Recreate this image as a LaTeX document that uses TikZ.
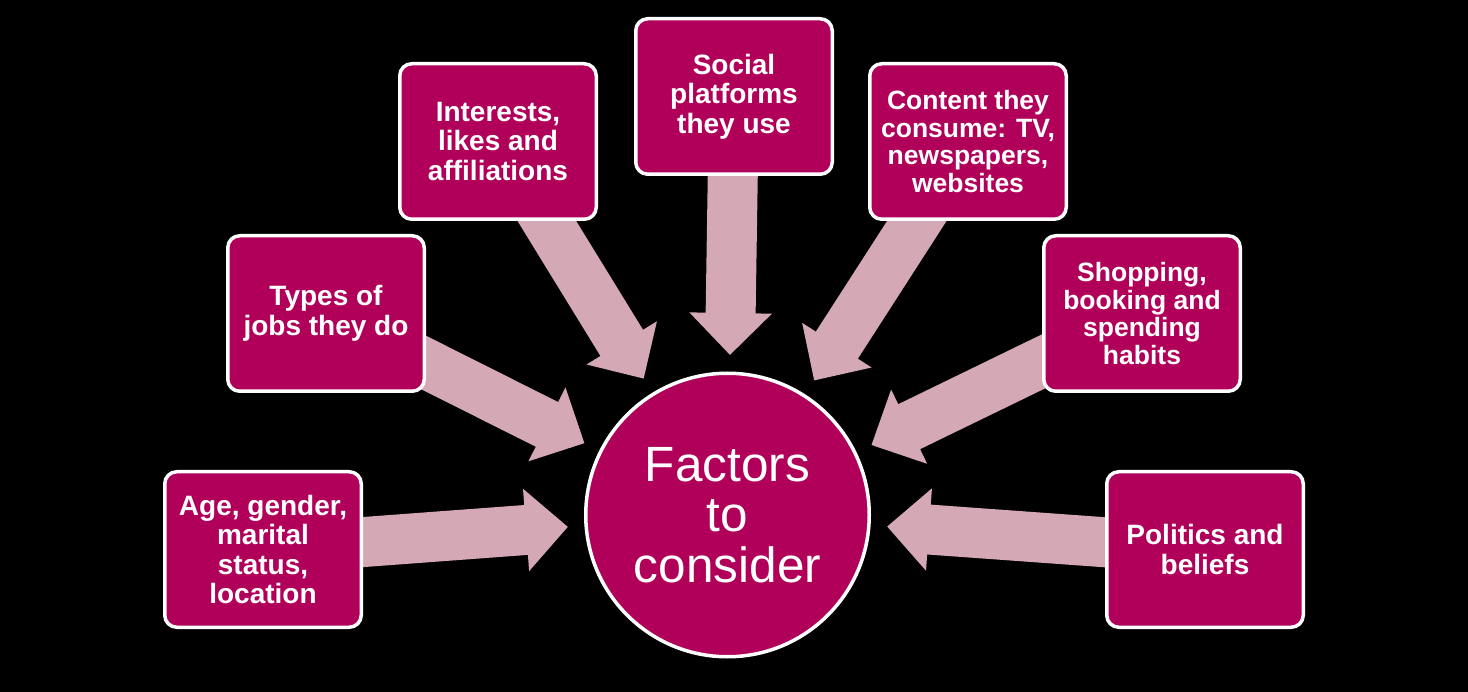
\documentclass[tikz,border=0pt]{standalone}
\usepackage{fontspec}
\setmainfont{Liberation Sans}
\usepackage{xcolor}
\definecolor{berry}{HTML}{B0005A}
\definecolor{blush}{HTML}{D4A8B5}
\usepackage{tikz}
\usetikzlibrary{arrows.meta, backgrounds}

\begin{document}
\begin{tikzpicture}[
    x=1pt, y=-1pt,
    >={Triangle[length=42pt, width=80pt]},
    factor/.style={draw=white, line width=3.5pt, fill=berry, rounded corners=12pt, minimum width=196.5pt, minimum height=155.5pt, align=center, text=white, inner sep=2pt, font=\fontsize{28}{29.5}\selectfont\bfseries},
    snug/.style={font=\fontsize{26.5}{27.8}\selectfont\bfseries},
    hub/.style={circle, draw=white, line width=3.5pt, fill=berry, minimum size=283.5pt, inner sep=0pt, align=center, text=white, font=\fontsize{49.5}{50.5}\selectfont},
    feed/.style={->, draw=blush, line width=50pt, shorten >=160pt}
]
\useasboundingbox (0,0) rectangle (1468,692);

% ── Centre ──
\node[hub] (factors) at (727.5, 515) {Factors\\to\\consider};

% ── Factor Boxes (left to right) ──
\node[factor] (age)       at (263, 549.5)  {Age, gender,\\marital\\status,\\location};
\node[factor] (jobs)      at (326, 313.5)  {Types of\\jobs they do};
\node[factor] (interests) at (498, 141.5)  {Interests,\\likes and\\affiliations};
\node[factor] (social)    at (734, 96.5)   {Social\\platforms\\they use};
\node[factor, snug] (content)  at (968, 141.5)  {Content they\\consume: TV,\\newspapers,\\websites};
\node[factor, snug] (shopping) at (1142, 313.5) {Shopping,\\booking and\\spending\\habits};
\node[factor] (politics)  at (1205, 549.5) {Politics and\\beliefs};

% ── Block Arrows into the Centre ──
\begin{pgfonlayer}{background}
\fill[black] (0,0) rectangle (1468,692);
\draw[feed] (age.center) -- (factors.center);
\draw[feed] (jobs.center) -- (factors.center);
\draw[feed] (interests.center) -- (factors.center);
\draw[feed] (social.center) -- (factors.center);
\draw[feed] (content.center) -- (factors.center);
\draw[feed] (shopping.center) -- (factors.center);
\draw[feed] (politics.center) -- (factors.center);
\end{pgfonlayer}

\end{tikzpicture}
\end{document}
